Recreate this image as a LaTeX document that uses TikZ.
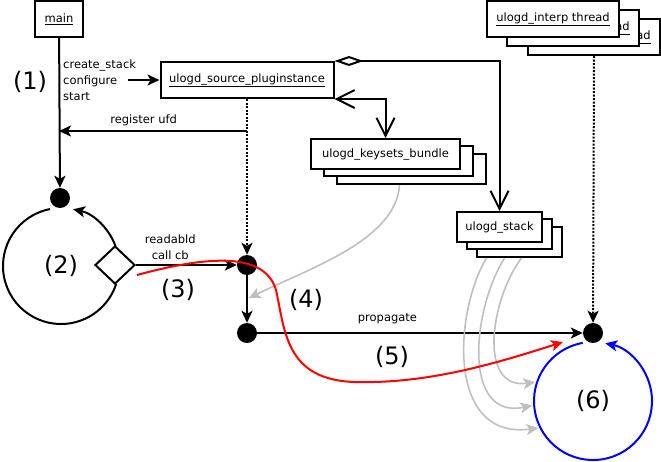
\documentclass[tikz,border=0pt]{standalone}
\usepackage{fontspec}
\setmainfont{DejaVu Sans}
\usetikzlibrary{arrows.meta,calc,shapes.geometric}

\begin{document}
\begin{tikzpicture}[x=1pt,y=-1pt,
  box/.style={draw,fill=white,line width=2pt,inner sep=0pt,font=\fontsize{11.5}{13}\selectfont},
  dot/.style={circle,fill=black,inner sep=0pt,minimum size=20pt},
  txt/.style={font=\fontsize{11.5}{16}\selectfont,inner sep=0pt},
  num/.style={font=\fontsize{24}{28}\selectfont,inner sep=0pt},
  ring/.style={circle,inner sep=0pt,outer sep=0pt,minimum size=#1,font=\fontsize{24}{28}\selectfont},
  arr/.style={line width=2pt,-{Stealth[length=12pt,width=11pt,inset=3pt]}},
  dotarr/.style={arr,dash pattern=on 2pt off 1.5pt},
  link/.style={line width=2pt},
  barbs/.style={link,{Straight Barb[length=18pt,width=18pt]}-{Straight Barb[length=18pt,width=18pt]}},
  faint/.style={line width=1.6pt,draw=black!25,shorten >=2pt,-{Stealth[length=12pt,width=11pt,inset=3pt]}}
]
  \useasboundingbox (0,0) rectangle (661,461);

  \node[box,minimum width=48pt,minimum height=36pt] (main) at (59,19) {\underline{main}};
  \node[box,minimum width=173pt,minimum height=36pt] (src) at (247,80) {\underline{ulogd\_source\_pluginstance}};

  \node[box,minimum width=149pt,minimum height=30pt] (kb3) at (411.5,169) {};
  \node[box,minimum width=149pt,minimum height=30pt] (kb2) at (398.5,161) {};
  \node[box,minimum width=149pt,minimum height=30pt] (kb1) at (385.5,154) {ulogd\_keysets\_bundle};

  \node[box,minimum width=85pt,minimum height=30pt] (st3) at (519.5,242) {};
  \node[box,minimum width=85pt,minimum height=30pt] (st2) at (509.5,234) {};
  \node[box,minimum width=85pt,minimum height=30pt] (st1) at (499.5,227) {ulogd\_stack};

  \node[box,minimum width=132pt,minimum height=36pt] (ib3) at (594,37) {\underline{ulogd\_interp thread}};
  \node[box,minimum width=132pt,minimum height=36pt] (ib2) at (573,28) {\underline{ulogd\_interp thread}};
  \node[box,minimum width=132pt,minimum height=36pt] (ib1) at (553,19) {\underline{ulogd\_interp thread}};

  \node[dot] (d1) at (60,198) {};
  \node[dot] (d2) at (247,265) {};
  \node[dot] (d3) at (247,333) {};
  \node[dot] (d4) at (593,333) {};

  \node[ring=116pt] (loop) at (61,266) {(2)};
  \node[ring=118pt] (hub) at (593,401) {(6)};
  \node[diamond,draw,fill=white,line width=2pt,minimum width=40pt,minimum height=38pt,inner sep=0pt] (poll) at (115,265) {};

  \node[num] (n1) at (30,82) {(1)};
  \node[num] (n3) at (178,290) {(3)};
  \node[num] (n4) at (306,300) {(4)};
  \node[num] (n5) at (392,357) {(5)};

  % main loop
  \draw[arr] (main) -- (d1);
  \node[txt,anchor=west,align=left] (cmds) at (63,80) {create\_stack\\configure\\start};
  \draw[arr] ([xshift=-8pt]cmds.east) -- (src.west);
  \coordinate (ru) at (247,131);
  \draw[arr] (ru) -- (ru -| main.south) node[txt,above=4pt,pos=0.55] {register ufd};
  \draw[arr] (loop.20) arc[start angle=20,end angle=78,radius=58pt];
  \draw[link] (loop.101) arc[start angle=101,end angle=342,radius=58pt];

  \draw[dotarr] (src.south) -- (d2);
  \draw[dotarr] (ib3.south) -- (d4);
  \draw[arr] (poll.east) -- (d2) node[txt,above=4pt,align=center,pos=0.34] {readabld\\call cb};
  \draw[arr] (d2) -- (d3);
  \draw[arr] (d3) -- (d4) node[txt,above=8pt,pos=0.4] {propagate};

  \draw[link,{Diamond[length=29pt,width=10pt,fill=white]}-{Straight Barb[length=18pt,width=18pt]}] (src.north east) -| (st1.north);
  \draw[barbs] (src.south east) -| (kb1.north);

  % keysets and stack feed in
  \draw[faint] ([xshift=-12pt]kb3.south) .. controls (396,240) and (310,268) .. ($(d2)!0.5!(d3)$);
  \draw[faint] ([xshift=-33pt]st3.south) .. controls (455,310) and (445,440) .. (hub.207);
  \draw[faint] ([xshift=-15pt]st3.south) .. controls (472,310) and (462,420) .. (hub.184);
  \draw[faint] ([xshift=2pt]st3.south) .. controls (490,300) and (478,390) .. (hub.161);

  \coordinate (rs) at (137,275);
  \coordinate (re) at (563,342);
  \draw[red,line width=2pt,-{Stealth[length=12pt,width=11pt,inset=3pt]}] (rs) .. controls (200,258) and (264,249) .. (276,290) .. controls (285,330) and (285,380) .. (355,382) .. controls (430,384) and (500,362) .. (re);

  \draw[blue,line width=2pt,-{Stealth[length=12pt,width=11pt,inset=3pt]}] (hub.100) arc[start angle=100,end angle=438,radius=59pt];
\end{tikzpicture}
\end{document}
